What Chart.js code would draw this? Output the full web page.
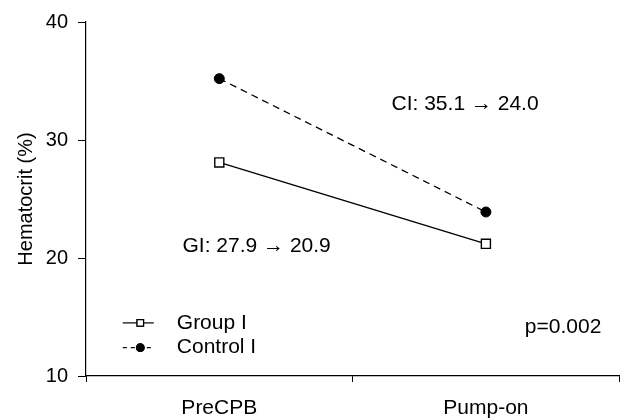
<!DOCTYPE html>
<html>
<head>
<meta charset="utf-8">
<script src="https://cdn.jsdelivr.net/npm/chart.js@4"></script>
<style>
    html, body { margin: 0; padding: 0; background: #fff; }
    #wrap { width: 627px; height: 418px; }
</style>
</head>
<body>
<div id="wrap"><canvas id="hct"></canvas></div>
<script>
const categories = ["PreCPB", "Pump-on"];
const group_values = [28.1, 21.2];
const control_values = [35.2, 23.9];
const y_ticks = [10, 20, 30, 40];

// notes drawn on the plot, anchored in data space (x = category index)
const notes = [
    { text: "CI: 35.1 \u2192 24.0", x: 0.646, y: 33.0 },
    { text: "GI: 27.9 \u2192 20.9", x: -0.138, y: 21.0 },
    { text: "p=0.002", x: 1.146, y: 14.1 },
];

const font_family = '"Liberation Sans", Arial, Helvetica, sans-serif';

Chart.defaults.font.family = font_family;
Chart.defaults.color = "#000";

const notes_plugin = {
    id: "notes",
    afterDatasetsDraw(chart) {
        const ctx = chart.ctx;
        const x = chart.scales.x;
        const y = chart.scales.y;
        const step = x.getPixelForValue(1) - x.getPixelForValue(0);
        const px = (v) => x.getPixelForValue(0) + v * step;

        ctx.save();
        ctx.fillStyle = "#000";
        ctx.font = "21px " + font_family;
        ctx.textBaseline = "middle";
        ctx.textAlign = "left";
        notes.forEach(n => ctx.fillText(n.text, px(n.x), y.getPixelForValue(n.y)));

        // legend: line sample with marker, then label
        const rows = [
            { label: "Group I", ds: chart.data.datasets[0], y: 14.5 },
            { label: "Control I", ds: chart.data.datasets[1], y: 12.4 },
        ];
        const x0 = px(-0.362);
        const x1 = x0 + 31;
        rows.forEach((r, i) => {
            const yy = y.getPixelForValue(r.y);
            ctx.strokeStyle = "#000";
            ctx.lineWidth = 1.2;
            ctx.setLineDash(i == 0 ? [] : [4, 4]);
            ctx.beginPath();
            ctx.moveTo(x0, yy);
            ctx.lineTo(x1, yy);
            ctx.stroke();
            ctx.setLineDash([]);
            Chart.helpers.drawPoint(ctx, {
                pointStyle: r.ds.pointStyle,
                radius: i == 0 ? 4.6 : 3.8,
                borderWidth: 1
            }, (x0 + x1) / 2 + 2, yy);
            ctx.fillStyle = r.ds.pointBackgroundColor;
            ctx.strokeStyle = "#000";
            ctx.fill();
            ctx.stroke();
            ctx.fillStyle = "#000";
            ctx.fillText(r.label, x0 + 54, yy);
        });
        ctx.restore();
    }
};

const hct_chart = new Chart(document.getElementById("hct"), {
    type: "line",
    data: {
        labels: categories,
        datasets: [
            {
                label: "Group I",
                data: group_values,
                borderColor: "#000",
                borderWidth: 1.4,
                pointStyle: "rect",
                pointRadius: 6.4,
                pointBorderWidth: 1.4,
                pointBackgroundColor: "#fff",
                pointBorderColor: "#000",
            },
            {
                label: "Control I",
                data: control_values,
                borderColor: "#000",
                borderWidth: 1.3,
                borderDash: [7, 5],
                pointStyle: "circle",
                pointRadius: 5,
                pointBorderWidth: 1,
                pointBackgroundColor: "#000",
                pointBorderColor: "#000",
            }
        ]
    },
    options: {
        responsive: true,
        maintainAspectRatio: false,
        animation: false,
        devicePixelRatio: 1,
        layout: {
            padding: { top: 21, right: 5, left: 0, bottom: 0 }
        },
        scales: {
            x: {
                offset: true,
                grid: {
                    offset: true,
                    drawOnChartArea: false,
                    tickLength: 6,
                    color: "#000",
                    lineWidth: 1,
                },
                border: { color: "#000", width: 1.2 },
                ticks: {
                    padding: 14,
                    font: { size: 21 },
                    color: "#000",
                },
                afterFit: (s) => { s.height = 42; }
            },
            y: {
                min: 10,
                max: 40,
                afterBuildTicks: (s) => { s.ticks = y_ticks.map(v => ({ value: v })); },
                grid: {
                    drawOnChartArea: false,
                    tickLength: 8,
                    color: "#000",
                    lineWidth: 1,
                },
                border: { color: "#000", width: 1.2 },
                ticks: {
                    padding: 10,
                    font: { size: 20 },
                    color: "#000",
                },
                title: {
                    display: true,
                    text: "Hematocrit (%)",
                    font: { size: 20 },
                    color: "#000",
                    padding: { top: 14, bottom: 0 }
                },
                afterFit: (s) => { s.width = 86; }
            }
        },
        plugins: {
            legend: { display: false },
            tooltip: { enabled: false }
        }
    },
    plugins: [notes_plugin]
});
</script>
</body>
</html>
